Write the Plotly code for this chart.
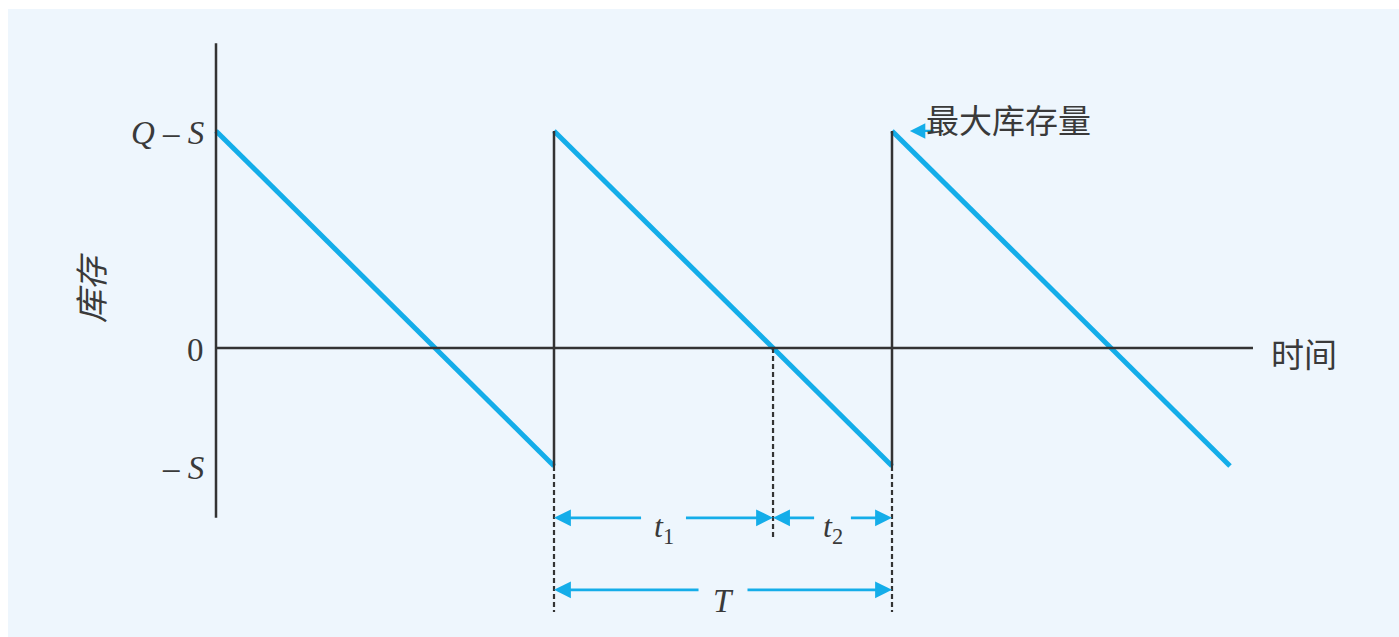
import plotly.graph_objects as go

# ---- data (time in units of one cycle T; inventory in units of the drawing) ----
cycle_starts = [0, 1, 2]          # start of each replenishment cycle
cycle_length = 1.0                # T
max_inventory = 0.648             # Q - S
shortage = 0.352                  # S  (drawn at -S)
y_tick_vals = [max_inventory, 0, -shortage]
y_tick_text = ["<i>Q</i> – <i>S</i>", "0", "– <i>S</i>"]
x_label = "时间"
y_label = "库存"
peak_label = "最大库存量"
t1_label = "<i>t</i><sub>1</sub>"
t2_label = "<i>t</i><sub>2</sub>"
T_label = "<i>T</i>"

BLUE = "#14ADE9"
DARK = "#333333"
TEXT = "#3a3a3a"
BG = "#EEF6FD"

# zero crossing inside a cycle (t1)
t1 = cycle_length * max_inventory / (max_inventory + shortage)

fig = go.Figure()

# sawtooth declining segments
sx, sy = [], []
for s in cycle_starts:
    sx += [s, s + cycle_length, None]
    sy += [max_inventory, -shortage, None]
fig.add_trace(go.Scatter(x=sx, y=sy, mode="lines",
                         line=dict(color=BLUE, width=5), hoverinfo="skip"))

# vertical replenishment lines
vx, vy = [], []
for s in cycle_starts[1:]:
    vx += [s, s, None]
    vy += [-shortage, max_inventory, None]
fig.add_trace(go.Scatter(x=vx, y=vy, mode="lines",
                         line=dict(color=DARK, width=2.5), hoverinfo="skip"))

# axes
axis_top, axis_bottom, axis_right = 0.91, -0.507, 3.068
fig.add_trace(go.Scatter(x=[0, 0], y=[axis_bottom, axis_top], mode="lines",
                         line=dict(color=DARK, width=2.5), hoverinfo="skip"))
fig.add_trace(go.Scatter(x=[0, axis_right], y=[0, 0], mode="lines",
                         line=dict(color=DARK, width=2.5), hoverinfo="skip"))

# dashed guide lines
c0 = cycle_starts[1]
c1 = cycle_starts[2]
dash_bottom = -0.788
t1_dash_bottom = -0.573
dx = [c0, c0, None, c0 + t1, c0 + t1, None, c1, c1]
dy = [-shortage, dash_bottom, None, 0, t1_dash_bottom, None, -shortage, dash_bottom]
fig.add_trace(go.Scatter(x=dx, y=dy, mode="lines",
                         line=dict(color=DARK, width=2.2, dash="5px,3px"),
                         hoverinfo="skip"))

annotations = []

def dim_arrow(x0, x1, y, label, gap, size):
    mid = (x0 + x1) / 2
    for head, tail in [(x0, mid - gap), (x1, mid + gap)]:
        annotations.append(dict(x=head, y=y, ax=tail, ay=y, xref="x", yref="y",
                                axref="x", ayref="y", text="", showarrow=True,
                                arrowhead=2, arrowsize=1.3, arrowwidth=2.6,
                                arrowcolor=BLUE, standoff=0))
    annotations.append(dict(x=mid, y=y, xref="x", yref="y", text=label,
                            showarrow=False, yshift=-11,
                            font=dict(family="Liberation Serif", size=size, color=TEXT)))

row1_y = -0.507
row2_y = -0.722
dim_arrow(c0, c0 + t1, row1_y, t1_label, 0.062, 32)
dim_arrow(c0 + t1, c1, row1_y, t2_label, 0.05, 32)
dim_arrow(c0, c1, row2_y, T_label, 0.068, 33)

# y tick labels
for v, t in zip(y_tick_vals, y_tick_text):
    annotations.append(dict(x=-0.03, y=v, xref="x", yref="y", text=t,
                            showarrow=False, xanchor="right", yshift=-2,
                            font=dict(family="Liberation Serif", size=33, color=TEXT)))

# axis titles
annotations.append(dict(x=axis_right + 0.046, y=0, xref="x", yref="y", text=x_label,
                        showarrow=False, xanchor="left", yshift=-5,
                        font=dict(family="Noto Sans CJK SC", size=33, color=TEXT)))
annotations.append(dict(x=-0.373, y=0.179, xref="x", yref="y", text="<i>" + y_label + "</i>",
                        showarrow=False, textangle=-90,
                        font=dict(family="Noto Sans CJK SC", size=33, color=TEXT)))

# peak label with small arrow
pk = cycle_starts[2]
annotations.append(dict(x=pk + 0.053, y=max_inventory, ax=pk + 0.128, ay=max_inventory,
                        xref="x", yref="y", axref="x", ayref="y", text="",
                        showarrow=True, arrowhead=2, arrowsize=1.4, arrowwidth=2.2,
                        arrowcolor=BLUE, standoff=0))
annotations.append(dict(x=pk + 0.094, y=max_inventory + 0.035, xref="x", yref="y",
                        text=peak_label, showarrow=False, xanchor="left",
                        font=dict(family="Noto Sans CJK SC", size=33, color=TEXT)))

fig.update_layout(
    width=1399, height=637,
    margin=dict(l=8, r=0, t=9, b=0),
    paper_bgcolor="white", plot_bgcolor=BG,
    showlegend=False,
    annotations=annotations,
    xaxis=dict(range=[-0.6154, 3.5], visible=False, fixedrange=True),
    yaxis=dict(range=[-0.8627, 1.012], visible=False, fixedrange=True),
)

fig.write_html("out.html", config={"displayModeBar": False})
with open("out.html", "r", encoding="utf-8") as f:
    html = f.read()
html = html.replace("<head>", "<head><style>body{margin:0;padding:0}</style>", 1)
with open("out.html", "w", encoding="utf-8") as f:
    f.write(html)
